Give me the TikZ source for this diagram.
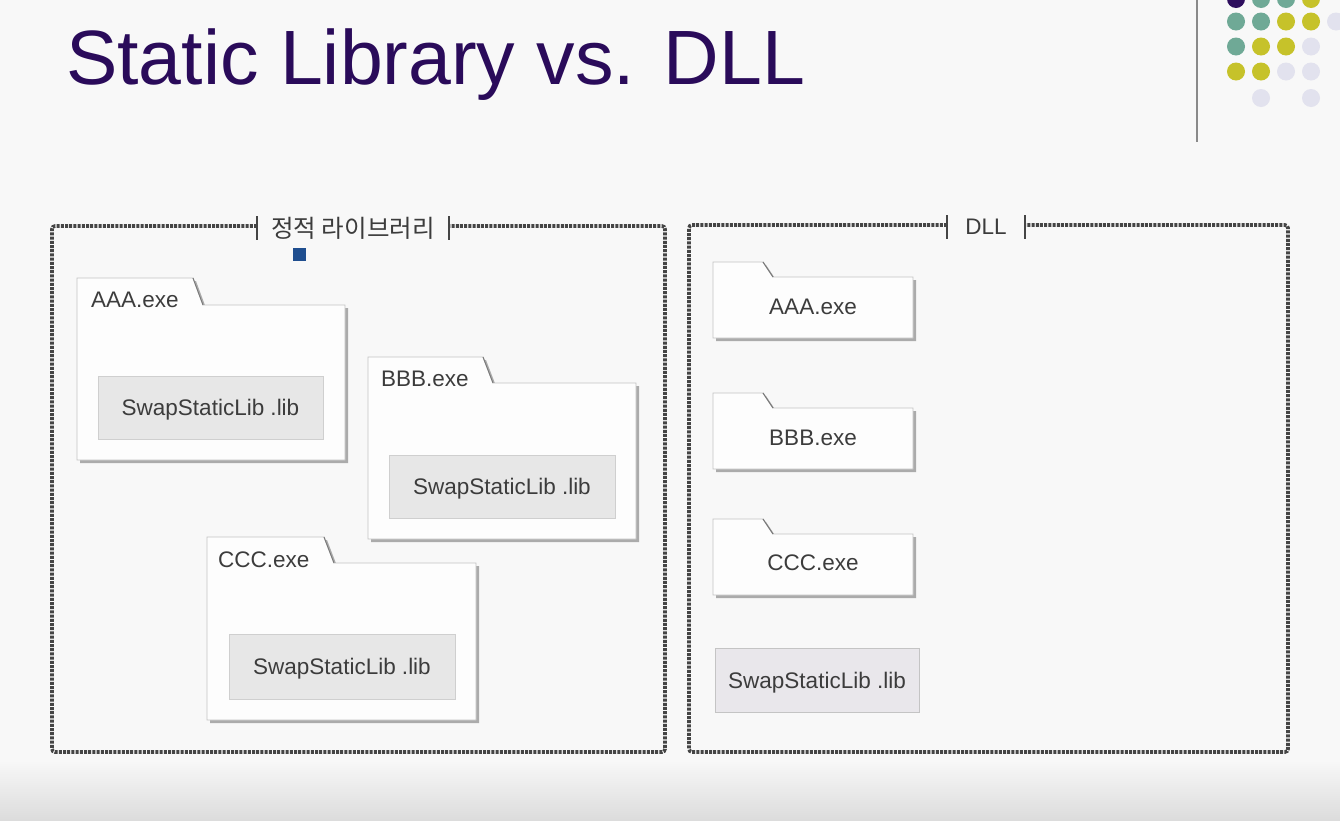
\documentclass[tikz,border=0pt]{standalone}
\usepackage{fontspec}
\setmainfont{Liberation Sans}
\newfontfamily\krfont{Noto Sans CJK KR}
\definecolor{bgc}{HTML}{F8F8F8}
\definecolor{bgbot}{HTML}{DCDCDC}
\definecolor{titlec}{HTML}{2A0B5A}
\definecolor{framec}{HTML}{454545}
\definecolor{foldc}{HTML}{C4C4C4}
\definecolor{slantc}{HTML}{7A7A7A}
\definecolor{foldfill}{HTML}{FDFDFD}
\definecolor{shadc}{HTML}{ABABAB}
\definecolor{libfill}{HTML}{E7E7E7}
\definecolor{libborder}{HTML}{CFCFCF}
\definecolor{libfillr}{HTML}{E9E7EB}
\definecolor{txtc}{HTML}{3C3C3C}
\definecolor{sqc}{HTML}{1F4E8F}
\definecolor{dotpur}{HTML}{2E0E5E}
\definecolor{dotteal}{HTML}{6FA996}
\definecolor{dotyel}{HTML}{C6C22A}
\definecolor{dotlav}{HTML}{E2E2EE}
\definecolor{vlinec}{HTML}{8A8A8A}
\tikzset{
  frame/.style={draw=framec, line width=3.6pt, dash pattern=on 3pt off 1.2pt, rounded corners=3pt},
  fbar/.style={draw=framec, line width=1.6pt},
  foldline/.style={draw=foldc, line width=0.9pt, fill=foldfill},
  foldshadow/.style={fill=shadc},
  libbox/.style={draw=libborder, fill=libfill, line width=0.8pt, inner sep=0,
    text height=16pt, text depth=0pt,
    font=\fontsize{22.5}{26}\selectfont, text=txtc},
  lbl/.style={font=\fontsize{22.5}{26}\selectfont, text=txtc, inner sep=0},
  flbl/.style={font=\krfont\fontsize{24.5}{28}\selectfont, text=txtc, inner sep=0},
  dot/.style={radius=9pt}
}
% #1 left, #2 tab top, #3 tab right, #4 body top, #5 right, #6 bottom
\newcommand\drawfolder[6]{%
  \fill[foldshadow, shift={(3,3)}] (#1,#2) -- (#3,#2) -- (#3+10,#4) -- (#5,#4) -- (#5,#6) -- (#1,#6) -- cycle;
  \draw[foldline] (#1,#2) -- (#3,#2) -- (#3+10,#4) -- (#5,#4) -- (#5,#6) -- (#1,#6) -- cycle;
  \draw[slantc, line width=1pt] (#3,#2) -- (#3+10,#4);
}
\begin{document}
\begin{tikzpicture}[x=1pt,y=-1pt]
\useasboundingbox (0,0) rectangle (1340,820);
\fill[bgc] (0,0) rectangle (1340,820);
\shade[top color=bgc, bottom color=bgbot] (0,760) rectangle (1340,820);

% title
\node[anchor=base west, font=\fontsize{77}{90}\selectfont, text=titlec, inner sep=0] (title) at (66,84) {Static Library vs. DLL};

% decoration top right
\draw[vlinec, line width=2pt] (1197,0) -- (1197,142);
\fill[dotpur]  (1236,-1) circle[dot];
\fill[dotteal] (1261,-1) circle[dot];
\fill[dotteal] (1286,-1) circle[dot];
\fill[dotyel]  (1311,-1) circle[dot];
\fill[dotteal] (1236,21.5) circle[dot];
\fill[dotteal] (1261,21.5) circle[dot];
\fill[dotyel]  (1286,21.5) circle[dot];
\fill[dotyel]  (1311,21.5) circle[dot];
\fill[dotlav]  (1336,21.5) circle[dot];
\fill[dotteal] (1236,46.5) circle[dot];
\fill[dotyel]  (1261,46.5) circle[dot];
\fill[dotyel]  (1286,46.5) circle[dot];
\fill[dotlav]  (1311,46.5) circle[dot];
\fill[dotyel]  (1236,71.5) circle[dot];
\fill[dotyel]  (1261,71.5) circle[dot];
\fill[dotlav]  (1286,71.5) circle[dot];
\fill[dotlav]  (1311,71.5) circle[dot];
\fill[dotlav]  (1261,98) circle[dot];
\fill[dotlav]  (1311,98) circle[dot];

% left frame
\draw[frame] (257,226) -- (52,226) -- (52,752) -- (665,752) -- (665,226) -- (449,226);
\draw[fbar] (257,216) -- (257,240);
\draw[fbar] (449,216) -- (449,240);
\node[flbl] (lefttitle) at (353,228) {정적 라이브러리};
\fill[sqc] (293,248) rectangle (306,261);

% right frame
\draw[frame] (947,225) -- (689,225) -- (689,752) -- (1288,752) -- (1288,225) -- (1025,225);
\draw[fbar] (947,215) -- (947,239);
\draw[fbar] (1025,215) -- (1025,239);
\node[lbl] (righttitle) at (986,227) {DLL};

% left folders
\drawfolder{77}{278}{193}{305}{345}{460}
\node[lbl, anchor=west] (aaaL) at (91,300) {AAA.exe};
\node[libbox, minimum width=225pt, minimum height=63pt] (libA) at (210.5,407.5) {SwapStaticLib .lib};

\drawfolder{368}{357}{483}{383}{636}{539}
\node[lbl, anchor=west] (bbbL) at (381,379) {BBB.exe};
\node[libbox, minimum width=226pt, minimum height=63pt] (libB) at (502,486.5) {SwapStaticLib .lib};

\drawfolder{207}{537}{324}{563}{476}{720}
\node[lbl, anchor=west] (cccL) at (218,559.5) {CCC.exe};
\node[libbox, minimum width=226pt, minimum height=65pt] (libC) at (342,666.5) {SwapStaticLib .lib};

% right folders
\drawfolder{713}{262}{763}{277}{913}{338}
\node[lbl] (aaaR) at (813,307) {AAA.exe};
\drawfolder{713}{393}{763}{408}{913}{469}
\node[lbl] (bbbR) at (813,438) {BBB.exe};
\drawfolder{713}{519}{763}{534}{913}{595}
\node[lbl] (cccR) at (813,563) {CCC.exe};
\node[libbox, fill=libfillr, draw=foldc, minimum width=204pt, minimum height=64pt] (libR) at (817,680) {SwapStaticLib .lib};
\end{tikzpicture}
\end{document}
